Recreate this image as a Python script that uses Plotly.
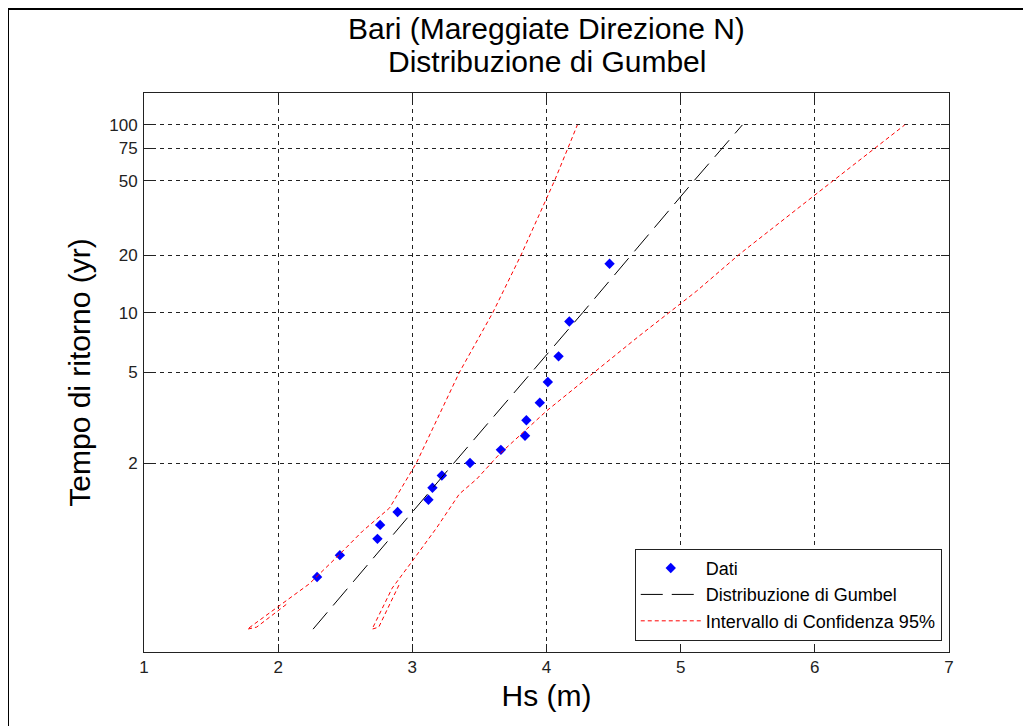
import numpy as np
import plotly.graph_objects as go

# ---- data ----
# observed sea storms: significant wave height (m) and return period (yr)
dati_hs = [2.29, 2.46, 2.74, 2.76, 2.89, 3.12, 3.15, 3.22, 3.43, 3.66,
           3.84, 3.85, 3.95, 4.01, 4.09, 4.17, 4.47]
dati_T = [1.0588, 1.125, 1.2, 1.2857, 1.3846, 1.5, 1.6364, 1.8, 2.0, 2.25,
          2.5714, 3.0, 3.6, 4.5, 6.0, 9.0, 18.0]

# fitted Gumbel distribution
gumbel_T = [1.0039, 2.0, 10.0, 50.0, 100.0]
gumbel_hs = [2.26, 3.31, 4.27, 5.10, 5.46]

# 95% confidence interval, lower Hs branch (left curve; doubled strand at its foot)
ci_low_T = [1.0173, 1.0045, 1.0039, 1.0151, 1.0445, 1.1143, 1.2455, 1.4203,
            1.90, 2.0, 5.0, 10.0, 20.0, 50.0, 75.0, 100.0]
ci_low_hs = [2.06, 1.84, 1.77, 2.00, 2.23, 2.43, 2.63, 2.83,
             3.00, 3.03, 3.35, 3.60, 3.81, 4.06, 4.16, 4.23]

# 95% confidence interval, upper Hs branch (right curve; doubled strand at its foot)
ci_up_T = [1.0426, 1.0045, 1.0039, 1.0376, 1.1036, 1.2644, 1.5620, 1.7503,
           2.166, 3.298, 4.917, 7.587, 12.95, 20.27, 42.96, 69.7, 100.0]
ci_up_hs = [2.90, 2.75, 2.70, 2.85, 3.00, 3.18, 3.35, 3.48,
            3.65, 4.00, 4.34, 4.69, 5.12, 5.44, 6.02, 6.39, 6.67]

# y-axis tick labels (return periods)
tick_T = [2, 5, 10, 20, 50, 75, 100]
tick_text = ["2", "5", "10", "20", "50", "75", "100"]

title_lines = ["Bari (Mareggiate Direzione N)", "Distribuzione di Gumbel"]


def gumbel_y(T):
    """Gumbel reduced variate for return period T (probability-paper scale)."""
    T = np.asarray(T, dtype=float)
    return -np.log(-np.log(1.0 - 1.0 / T))


FONT = "Liberation Sans, Arial, Helvetica, sans-serif"
RED_DASH = dict(color="#ff0000", width=1, dash="4px,3px")

fig = go.Figure()

fig.add_trace(go.Scatter(
    x=dati_hs, y=gumbel_y(dati_T), mode="markers", name="Dati",
    marker=dict(symbol="diamond", size=8, color="#0000ff",
                line=dict(width=0)),
))
fig.add_trace(go.Scatter(
    x=gumbel_hs, y=gumbel_y(gumbel_T), mode="lines",
    name="Distribuzione di Gumbel",
    line=dict(color="black", width=1, dash="22px,9px"),
))
fig.add_trace(go.Scatter(
    x=ci_low_hs, y=gumbel_y(ci_low_T), mode="lines",
    name="Intervallo di Confidenza 95%", line=RED_DASH,
))
fig.add_trace(go.Scatter(
    x=ci_up_hs, y=gumbel_y(ci_up_T), mode="lines",
    name="Intervallo di Confidenza 95%", showlegend=False, line=RED_DASH,
))

axis_common = dict(
    showline=True, linecolor="#222222", linewidth=1, mirror="ticks",
    ticks="inside", ticklen=8, tickcolor="#222222",
    showgrid=True, gridcolor="#222222", gridwidth=1, griddash="4px,4px",
    zeroline=False,
    tickfont=dict(family=FONT, size=17, color="#222222"),
)

fig.update_xaxes(
    range=[1, 7], dtick=1, tick0=1,
    title=dict(text="Hs (m)", font=dict(family=FONT, size=30, color="black"),
               standoff=8),
    **axis_common,
)
fig.update_yaxes(
    range=[-2, 5], tickmode="array",
    tickvals=list(gumbel_y(tick_T)), ticktext=tick_text,
    ticklabelstandoff=2,
    title=dict(text="Tempo di ritorno (yr)",
               font=dict(family=FONT, size=30, color="black"), standoff=9),
    **axis_common,
)

# page body has an 8px margin, so the figure is drawn 8px right/down
W, H = 1023, 718
ML, MR, MT, MB = 136, 82, 85, 74
PW, PH = W - ML - MR, H - MT - MB

annotations = [
    dict(text=title_lines[0], xref="paper", yref="paper", x=0.5,
         y=1 + (MT - 21) / PH, xanchor="center", yanchor="middle",
         showarrow=False, font=dict(family=FONT, size=30, color="black")),
    dict(text=title_lines[1], xref="paper", yref="paper", x=0.5,
         y=1 + (MT - 53) / PH, xanchor="center", yanchor="middle",
         showarrow=False, font=dict(family=FONT, size=30, color="black")),
]

fig.update_layout(
    width=W, height=H,
    margin=dict(l=ML, r=MR, t=MT, b=MB),
    paper_bgcolor="white", plot_bgcolor="white",
    annotations=annotations,
    legend=dict(
        x=0.991, xanchor="right", y=0.02, yanchor="bottom",
        bgcolor="white", bordercolor="#222222", borderwidth=1,
        font=dict(family=FONT, size=18, color="black"),
        itemwidth=60,
    ),
    showlegend=True,
    shapes=[
        dict(type="line", xref="paper", yref="paper",
             x0=-ML / PW, x1=(W - ML + 10) / PW,
             y0=1 + (MT - 1) / PH, y1=1 + (MT - 1) / PH,
             line=dict(color="black", width=2)),
        dict(type="line", xref="paper", yref="paper",
             x0=-ML / PW, x1=-ML / PW,
             y0=1 + (MT - 1) / PH, y1=-(MB + 10) / PH,
             line=dict(color="black", width=2)),
    ],
)

fig.write_html("out.html")
